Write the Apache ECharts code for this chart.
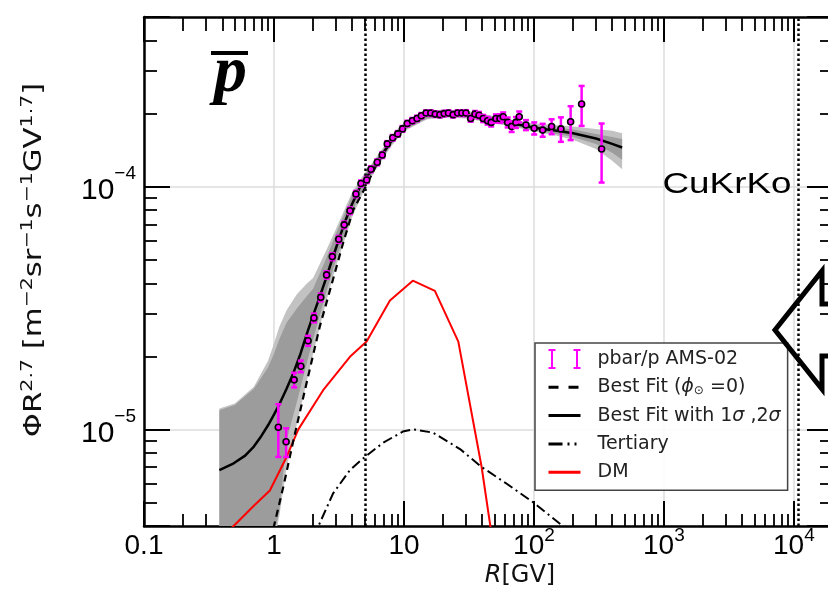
<!DOCTYPE html>
<html lang="en">
<head>
    <meta charset="UTF-8">
    <script src="https://cdn.jsdelivr.net/npm/echarts@6/dist/echarts.min.js"></script>
    <title>pbar spectrum</title>
    <style>
        html, body { margin: 0; padding: 0; background: #fff; overflow: hidden; }
        /* the frame runs a little past the right edge of the picture */
        #main { width: 840px; height: 590px; }
    </style>
</head>
<body>
<div id="main"></div>

<script>
    // axis ranges and tick positions
    var xMin = 0.1, xMax = 2e4
    var yMin = 4e-6, yMax = 5e-4
    var xMinorTicks = [0.2, 0.3, 0.4, 0.5, 0.6, 0.7, 0.8, 0.9, 2, 3, 4, 5, 6, 7, 8, 9,
        20, 30, 40, 50, 60, 70, 80, 90, 200, 300, 400, 500, 600, 700, 800, 900,
        2000, 3000, 4000, 5000, 6000, 7000, 8000, 9000]
    var yMinorTicks = [5e-6, 6e-6, 7e-6, 8e-6, 9e-6, 2e-5, 3e-5, 4e-5, 5e-5, 6e-5, 7e-5, 8e-5, 9e-5,
        2e-4, 3e-4, 4e-4]
    var vlineR = [5.07, 1.08e4]

    // AMS-02 points
    var pbarR = [1.08, 1.24, 1.43, 1.61, 1.83, 2.03, 2.29, 2.54, 2.81, 3.15, 3.47, 3.84, 4.27, 4.67, 5.17,
        5.57, 6.23, 6.81, 7.44, 8.19, 8.96, 9.74, 10.6, 11.6, 12.6, 13.6, 14.8, 16.1, 17.4, 18.9, 20.4,
        22.0, 23.9, 25.9, 27.9, 30.0, 32.6, 35.2, 37.8, 40.7, 44.0, 46.9, 51.0, 54.8, 58.0, 62.8, 67.4,
        72.7, 77.1, 86.8, 100.5, 116.7, 136.8, 161.3, 191.6, 232.8, 331.7]
    var pbarV = [1.02e-5, 8.9e-6, 1.60e-5, 1.82e-5, 2.32e-5, 2.88e-5, 3.50e-5, 4.33e-5, 5.15e-5, 6.07e-5,
        6.96e-5, 7.96e-5, 9.33e-5, 1.03e-4, 1.066e-4, 1.18e-4, 1.26e-4, 1.35e-4, 1.50e-4, 1.59e-4, 1.65e-4,
        1.73e-4, 1.82e-4, 1.87e-4, 1.91e-4, 1.96e-4, 2.01e-4, 2.01e-4, 1.99e-4, 1.98e-4, 2.00e-4, 2.01e-4,
        1.98e-4, 2.01e-4, 2.01e-4, 2.01e-4, 1.91e-4, 1.99e-4, 1.97e-4, 1.91e-4, 1.87e-4, 1.84e-4, 1.91e-4,
        1.91e-4, 1.94e-4, 1.84e-4, 1.77e-4, 1.84e-4, 1.94e-4, 1.795e-4, 1.74e-4, 1.71e-4, 1.77e-4, 1.73e-4,
        1.85e-4, 2.19e-4, 1.43e-4]
    var pbarErr = [2.5e-6, 1.2e-6, 1.1e-6, 1.0e-6, 1.1e-6, 1.2e-6, 1.3e-6, 1.5e-6, 1.7e-6, 2.0e-6, 2.2e-6,
        2.5e-6, 2.8e-6, 3.0e-6, 3.1e-6, 3.3e-6, 3.5e-6, 3.7e-6, 4.0e-6, 4.2e-6, 4.4e-6, 4.6e-6, 4.8e-6,
        4.9e-6, 5.0e-6, 5.1e-6, 5.2e-6, 5.2e-6, 5.2e-6, 5.2e-6, 5.3e-6, 5.3e-6, 5.3e-6, 5.4e-6, 5.5e-6,
        5.6e-6, 5.8e-6, 6.0e-6, 6.2e-6, 6.5e-6, 6.8e-6, 7.0e-6, 7.4e-6, 7.8e-6, 8.2e-6, 8.6e-6, 9.0e-6,
        9.5e-6, 1.0e-5, 8.5e-6, 1.0e-5, 1.05e-5, 1.25e-5, 2.0e-5, 2.95e-5, 4.1e-5, 3.9e-5]

    // best fit
    var fitR = [0.38, 0.49, 0.6, 0.7, 0.8, 0.9, 1.0, 1.1, 1.25, 1.4, 1.6, 1.8, 2.0, 2.2, 2.5, 2.8, 3.2, 3.6,
        4.0, 4.6, 5.2, 6.0, 7.0, 8.0, 9.0, 10, 12, 14, 17, 20, 25, 30, 40, 50, 70, 100, 150, 200, 300, 400, 477]
    var fitV = [6.8e-6, 7.25e-6, 7.8e-6, 8.5e-6, 9.4e-6, 1.04e-5, 1.15e-5, 1.27e-5, 1.47e-5, 1.69e-5, 2.05e-5,
        2.5e-5, 2.95e-5, 3.4e-5, 4.15e-5, 5.0e-5, 6.2e-5, 7.4e-5, 8.5e-5, 1.0e-4, 1.1e-4, 1.23e-4, 1.39e-4,
        1.54e-4, 1.66e-4, 1.76e-4, 1.88e-4, 1.95e-4, 1.99e-4, 2.0e-4, 2.0e-4, 1.98e-4, 1.93e-4, 1.88e-4,
        1.82e-4, 1.75e-4, 1.7e-4, 1.66e-4, 1.58e-4, 1.5e-4, 1.45e-4]

    // best fit, phi = 0
    var noModR = [0.95, 1.0, 1.18, 1.41, 1.78, 2.25, 2.7, 3.4, 4.06, 4.88, 6.0, 7.5, 10, 12]
    var noModV = [3.5e-6, 4.0e-6, 5.8e-6, 9.0e-6, 1.55e-5, 2.65e-5, 3.75e-5, 5.85e-5, 8.0e-5, 9.6e-5, 1.2e-4,
        1.47e-4, 1.76e-4, 1.88e-4]

    // tertiary
    var terR = [2.0, 2.2, 2.85, 3.84, 5.0, 6.9, 9.8, 11.8, 16.7, 27, 39.6, 61, 99, 167, 200]
    var terV = [3.6e-6, 4.0e-6, 5.45e-6, 6.8e-6, 7.7e-6, 8.8e-6, 9.8e-6, 1.0e-5, 9.7e-6, 8.3e-6, 7.0e-6,
        6.0e-6, 5.0e-6, 4.0e-6, 3.7e-6]

    // DM
    var dmR = [0.4, 0.5, 0.7, 0.93, 1.25, 1.54, 2.39, 3.84, 5.16, 7.8, 11.7, 17.3, 26.2, 39.6, 50]
    var dmV = [3.6e-6, 4.05e-6, 4.85e-6, 5.6e-6, 7.7e-6, 1.0e-5, 1.45e-5, 1.99e-5, 2.3e-5, 3.4e-5, 4.1e-5,
        3.72e-5, 2.3e-5, 7.0e-6, 3.0e-6]

    // 1 sigma / 2 sigma bands
    var bandR = [0.38, 0.5, 0.7, 0.9, 1.0, 1.1, 1.25, 1.5, 1.8, 2.0, 2.5, 3.0, 4.0, 5.0, 6.0, 8.0, 10, 15, 20,
        30, 50, 70, 100, 150, 200, 300, 400, 477]
    var band2Hi = [1.22e-5, 1.28e-5, 1.5e-5, 1.92e-5, 2.26e-5, 2.65e-5, 3.1e-5, 3.6e-5, 4.0e-5, 4.2e-5, 5.4e-5,
        6.7e-5, 9.5e-5, 1.14e-4, 1.3e-4, 1.62e-4, 1.84e-4, 2.04e-4, 2.08e-4, 2.06e-4, 1.95e-4, 1.88e-4,
        1.82e-4, 1.79e-4, 1.77e-4, 1.73e-4, 1.7e-4, 1.66e-4]
    var band2Lo = [2e-6, 2e-6, 2.4e-6, 3.0e-6, 3.4e-6, 4.4e-6, 7.0e-6, 1.05e-5, 1.6e-5, 2.05e-5, 3.3e-5, 4.7e-5,
        7.5e-5, 9.8e-5, 1.16e-4, 1.47e-4, 1.69e-4, 1.89e-4, 1.93e-4, 1.91e-4, 1.82e-4, 1.76e-4, 1.69e-4,
        1.62e-4, 1.56e-4, 1.43e-4, 1.28e-4, 1.18e-4]
    var band1Hi = [1.2e-5, 1.26e-5, 1.47e-5, 1.8e-5, 2.05e-5, 2.35e-5, 2.75e-5, 3.15e-5, 3.55e-5, 3.8e-5, 5.0e-5,
        6.4e-5, 9.2e-5, 1.12e-4, 1.28e-4, 1.59e-4, 1.81e-4, 2.01e-4, 2.05e-4, 2.03e-4, 1.93e-4, 1.86e-4,
        1.79e-4, 1.75e-4, 1.72e-4, 1.65e-4, 1.6e-4, 1.57e-4]
    var band1Lo = [2e-6, 2e-6, 2.5e-6, 3.2e-6, 3.7e-6, 4.6e-6, 9.0e-6, 1.3e-5, 1.9e-5, 2.35e-5, 3.6e-5, 5.0e-5,
        7.9e-5, 1.01e-4, 1.18e-4, 1.49e-4, 1.71e-4, 1.91e-4, 1.95e-4, 1.93e-4, 1.84e-4, 1.78e-4, 1.71e-4,
        1.65e-4, 1.6e-4, 1.5e-4, 1.38e-4, 1.29e-4]

    var labelFont = 'Liberation Sans'
    var textFont = 'DejaVu Sans'

    function pairs(xs, ys) {
        return xs.map(function (x, i) { return [x, ys[i]] })
    }

    function powLabel(v, isY) {
        var lg = Math.log10(v)
        var e = Math.round(lg)
        if (Math.abs(lg - e) > 1e-6) return ''
        if (!isY) {
            if (e === -1) return '0.1'
            if (e === 0) return '1'
            if (e === 1) return '10'
        }
        return '10{sup|' + (e < 0 ? '\u2212' + (-e) : e) + '}'
    }

    var spine = {show: true, onZero: false, lineStyle: {color: '#000', width: 2.5}}

    function majorX(pos, main) {
        return {
            type: 'log', logBase: 10, min: xMin, max: xMax, position: pos,
            axisLine: spine,
            axisTick: {show: true, inside: true, length: 25, lineStyle: {color: '#000', width: 2}},
            minorTick: {show: false},
            axisLabel: {
                show: main, margin: 0, color: '#000', fontFamily: labelFont, fontSize: 28, lineHeight: 40,
                formatter: function (v) { return powLabel(v, false) },
                rich: {sup: {fontFamily: labelFont, fontSize: 19, lineHeight: 22, verticalAlign: 'top'}}
            },
            splitLine: {show: main, lineStyle: {color: '#dcdcdc', width: 1.5}}
        }
    }

    function majorY(pos, main) {
        return {
            type: 'log', logBase: 10, min: yMin, max: yMax, position: pos,
            axisLine: spine,
            axisTick: {show: true, inside: true, length: 26, lineStyle: {color: '#000', width: 2}},
            minorTick: {show: false},
            axisLabel: {
                show: main, margin: 8, color: '#000', fontFamily: labelFont, fontSize: 30, lineHeight: 52,
                padding: [8, 0, 0, 0],
                formatter: function (v) { return powLabel(v, true) },
                rich: {sup: {fontFamily: labelFont, fontSize: 19, lineHeight: 22, verticalAlign: 'top'}}
            },
            splitLine: {show: main, lineStyle: {color: '#dcdcdc', width: 1.5}}
        }
    }

    // minor ticks sit on plain value axes laid over the log axes
    function minorAxis(pos, lo, hi, ticks, len) {
        return {
            type: 'value', min: Math.log10(lo), max: Math.log10(hi), position: pos,
            axisLine: {show: false, onZero: false},
            axisTick: {show: true, inside: true, length: len, customValues: ticks.map(Math.log10),
                lineStyle: {color: '#000', width: 1.8}},
            axisLabel: {show: false},
            splitLine: {show: false}
        }
    }

    function bandSeries(lo, hi, color) {
        return {
            type: 'custom', silent: true, clip: true, z: 1,
            data: bandR.map(function (r, i) { return [r, lo[i], hi[i]] }),
            encode: {x: 0, y: [1, 2]},
            renderItem: function (params, api) {
                if (params.dataIndex !== 0) return
                var up = bandR.map(function (r, i) { return api.coord([r, hi[i]]) })
                var dn = bandR.map(function (r, i) { return api.coord([r, lo[i]]) }).reverse()
                return {type: 'polygon', shape: {points: up.concat(dn)}, style: {fill: color}}
            }
        }
    }

    function lineSeries(name, xs, ys, color, width, type, z) {
        return {
            name: name, type: 'line', data: pairs(xs, ys), symbol: 'none', showSymbol: false,
            z: z, silent: true,
            lineStyle: {color: color, width: width, type: type},
            itemStyle: {color: color}
        }
    }

    var dmSeries = lineSeries('DM', dmR, dmV, '#ff0000', 2, 'solid', 3)
    dmSeries.markLine = {
        silent: true, symbol: 'none', label: {show: false},
        lineStyle: {color: '#000', type: [2.5, 2.5], width: 2.5},
        data: vlineR.map(function (r) { return {xAxis: r} })
    }

    var legendText = {
        'pbar/p AMS-02': 'pbar/p AMS-02',
        'Best Fit (phi=0)': 'Best Fit ({i|\u03d5}{sub|\u2299} =0)',
        'Best Fit': 'Best Fit with 1{i|\u03c3} ,2{i|\u03c3}',
        'Tertiary': 'Tertiary',
        'DM': 'DM'
    }
    // line entries show only the line, no marker
    function lineEntry(name, dash) {
        return {name: name, itemStyle: {opacity: 0}, lineStyle: {width: 3, type: dash}}
    }

    var myChart = echarts.init(document.getElementById('main'))

    var option = {
        animation: false,
        grid: {left: 144, top: 17, right: 7, bottom: 64},
        xAxis: [
            majorX('bottom', true),
            majorX('top', false),
            minorAxis('bottom', xMin, xMax, xMinorTicks, 12),
            minorAxis('top', xMin, xMax, xMinorTicks, 14)
        ],
        yAxis: [
            majorY('left', true),
            majorY('right', false),
            minorAxis('left', yMin, yMax, yMinorTicks, 13),
            minorAxis('right', yMin, yMax, yMinorTicks, 13)
        ],
        legend: {
            orient: 'vertical', left: 535, top: 343,
            padding: [6, 7, 8, 12], itemGap: 8.3, itemWidth: 32, itemHeight: 20,
            backgroundColor: 'rgba(255,255,255,0.9)', borderColor: '#444', borderWidth: 1.5,
            selectedMode: false,
            data: [
                {name: 'pbar/p AMS-02', icon: 'path://M0,0H7V2H4.5V18H7V20H0V18H2.5V2H0Z M25,0H32V2H29.5V18H32V20H25V18H27.5V2H25Z'},
                lineEntry('Best Fit (phi=0)', [10, 10]),
                lineEntry('Best Fit', 'solid'),
                lineEntry('Tertiary', [14, 5, 2, 5, 2, 5]),
                lineEntry('DM', 'solid')
            ],
            formatter: function (name) { return legendText[name] },
            textStyle: {
                fontFamily: textFont, fontSize: 19, color: '#222', lineHeight: 20, padding: [0, 0, 0, 12],
                rich: {
                    i: {fontFamily: textFont, fontSize: 19, fontStyle: 'italic', color: '#222'},
                    sub: {fontFamily: textFont, fontSize: 12, color: '#222', verticalAlign: 'bottom', lineHeight: 12}
                }
            }
        },
        graphic: [
            {
                type: 'text', x: 35, y: 260, rotation: Math.PI / 2, scaleX: 1.28, z: 10,
                style: {
                    text: '\u03a6R{s|2.7} [m{s|\u22122}sr{s|\u22121}s{s|\u22121}GV{s|1.7}]',
                    font: '24px "DejaVu Sans"', fill: '#111', lineHeight: 30,
                    align: 'center', verticalAlign: 'middle', textAlign: 'center', textVerticalAlign: 'middle',
                    rich: {s: {fontFamily: textFont, fontSize: 16, lineHeight: 16, verticalAlign: 'top', fill: '#111'}}
                }
            },
            {
                type: 'text', x: 520, y: 576, z: 10,
                style: {
                    text: '{i|R}[GV]', font: '24px "DejaVu Sans"', fill: '#111',
                    align: 'center', verticalAlign: 'middle', textAlign: 'center', textVerticalAlign: 'middle',
                    rich: {i: {fontFamily: textFont, fontSize: 24, fontStyle: 'italic', fill: '#111'}}
                }
            },
            {
                type: 'text', x: 214, y: 74, z: 10,
                style: {
                    text: 'p', font: 'italic bold 66px "Liberation Serif"', fill: '#000',
                    align: 'left', verticalAlign: 'middle', textAlign: 'left', textVerticalAlign: 'middle'
                }
            },
            {type: 'rect', z: 10, shape: {x: 211, y: 51, width: 37, height: 4}, style: {fill: '#000'}},
            {
                type: 'text', x: 727, y: 185, scaleX: 1.27, z: 10,
                style: {
                    text: 'CuKrKo', font: '29px "Liberation Sans"', fill: '#000',
                    align: 'center', verticalAlign: 'middle', textAlign: 'center', textVerticalAlign: 'middle'
                }
            },
            {
                type: 'polyline', z: 10,
                shape: {points: [[840, 304], [822, 304], [822, 271], [775, 330], [822, 389], [822, 356], [840, 356]]},
                style: {stroke: '#000', lineWidth: 5, fill: null, lineJoin: 'miter'}
            }
        ],
        series: [
            bandSeries(band2Lo, band2Hi, '#c2c2c2'),
            bandSeries(band1Lo, band1Hi, '#9c9c9c'),
            dmSeries,
            lineSeries('Tertiary', terR, terV, '#000', 2, [10, 4, 2, 4], 3),
            lineSeries('Best Fit (phi=0)', noModR, noModV, '#000', 2.2, [7, 5], 3),
            lineSeries('Best Fit', fitR, fitV, '#000', 2.5, 'solid', 4),
            {
                name: 'pbar/p AMS-02', type: 'custom', z: 5, silent: true, clip: true,
                itemStyle: {color: '#ff00ff'},
                data: pbarR.map(function (r, i) { return [r, pbarV[i], pbarErr[i]] }),
                encode: {x: 0, y: 1},
                renderItem: function (params, api) {
                    var r = api.value(0), v = api.value(1), e = api.value(2)
                    var hi = api.coord([r, v + e]), lo = api.coord([r, v - e]), c = api.coord([r, v])
                    var mag = {stroke: '#ff00ff', lineWidth: 2.5}
                    return {
                        type: 'group', children: [
                            {type: 'line', shape: {x1: c[0], y1: hi[1], x2: c[0], y2: lo[1]}, style: mag},
                            {type: 'line', shape: {x1: c[0] - 3, y1: hi[1], x2: c[0] + 3, y2: hi[1]}, style: mag},
                            {type: 'line', shape: {x1: c[0] - 3, y1: lo[1], x2: c[0] + 3, y2: lo[1]}, style: mag},
                            {type: 'circle', shape: {cx: c[0], cy: c[1], r: 3}, style: {fill: '#ff00ff', stroke: '#000', lineWidth: 1.6}}
                        ]
                    }
                }
            }
        ]
    }

    myChart.setOption(option)
</script>
</body>
</html>
